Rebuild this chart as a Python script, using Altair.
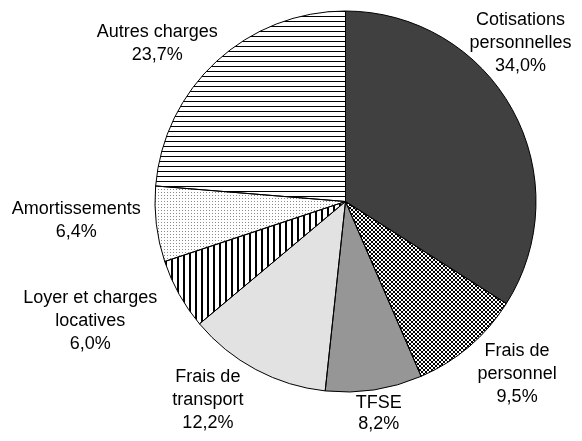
import math
import altair as alt
import pandas as pd

# ---------------- data ----------------
categories = ["Cotisations personnelles", "Frais de personnel", "TFSE",
              "Frais de transport", "Loyer et charges locatives",
              "Amortissements", "Autres charges"]
values = [34.0, 9.5, 8.2, 12.2, 6.0, 6.4, 23.7]
label_names = ["Cotisations\npersonnelles", "Frais de\npersonnel", "TFSE",
               "Frais de\ntransport", "Loyer et charges\nlocatives",
               "Amortissements", "Autres charges"]

# ---------------- layout / style ----------------
W, H = 566, 425
CX, CY, R = 337.5, 193.5, 190.5
LABEL_R = 235
label_nudges = [(-31, -45), (19, -6), (-2, -20), (-27, -9), (-50, 5), (-36, -9), (-29, 15)]
label_line_h = [23, 23, 21, 23, 23, 23, 23]
FONT = "Liberation Sans"

df = pd.DataFrame({
    "cat": categories,
    "value": values,
    "order": list(range(len(categories))),
    "label": [n + "\n" + f"{v:.1f}".replace(".", ",") + "%" for n, v in zip(label_names, values)],
})

total = sum(values)


def wedge_bbox(i):
    """bbox (w, h) of the wedge, used only to size the hatch patterns."""
    start = sum(values[:i]) / total * 2 * math.pi
    end = start + values[i] / total * 2 * math.pi
    xs, ys = [0.0], [0.0]
    n = 200
    for k in range(n + 1):
        a = start + (end - start) * k / n
        xs.append(R * math.sin(a))
        ys.append(-R * math.cos(a))
    return max(xs) - min(xs), max(ys) - min(ys)


def stripes(extent, period, dark, c_dark, c_light, along_x):
    stops = []
    pos = 0.0
    while pos < extent:
        o0 = pos / extent
        o1 = min((pos + dark) / extent, 1.0)
        o2 = min((pos + period) / extent, 1.0)
        stops += [alt.GradientStop(offset=o0, color=c_dark),
                  alt.GradientStop(offset=o1, color=c_dark),
                  alt.GradientStop(offset=o1, color=c_light),
                  alt.GradientStop(offset=o2, color=c_light)]
        pos += period
    if along_x:
        return alt.LinearGradient(gradient="linear", stops=stops, x1=0, y1=0, x2=1, y2=0)
    return alt.LinearGradient(gradient="linear", stops=stops, x1=0, y1=0, x2=0, y2=1)


def fills_for(i):
    w, h = wedge_bbox(i)
    cat = categories[i]
    if cat == "Cotisations personnelles":
        return [("#404040", None)]
    if cat == "TFSE":
        return [("#969696", None)]
    if cat == "Frais de transport":
        return [("#e2e2e2", None)]
    if cat == "Frais de personnel":
        return [(stripes(h, 4, 2, "#000000", "#ffffff", False), None),
                (stripes(w, 4, 2, "#ffffff", "#000000", True), "difference")]
    if cat == "Loyer et charges locatives":
        return [(stripes(w, 6, 2, "#000000", "#ffffff", True), None)]
    if cat == "Amortissements":
        return [(stripes(h, 3, 1, "#8a8a8a", "#ffffff", False), None),
                (stripes(w, 3, 1, "#8a8a8a", "#ffffff", True), "lighten")]
    if cat == "Autres charges":
        return [(stripes(h, 5, 1, "#000000", "#ffffff", False), None)]
    return [("#ffffff", None)]


base = alt.Chart(df).transform_window(
    end="sum(value)", sort=[alt.SortField("order")], frame=[None, 0]
).transform_calculate(
    start="datum.end - datum.value",
    mid="datum.end - datum.value / 2",
)

theta_scale = alt.Scale(domain=[0, total])

layers = []
for i, cat in enumerate(categories):
    sel = base.transform_filter(alt.datum.cat == cat)
    for fill, blend in fills_for(i):
        kw = dict(x=CX, y=CY, outerRadius=R, fill=fill, strokeWidth=0)
        if blend:
            kw["blend"] = blend
        layers.append(sel.mark_arc(**kw).encode(
            theta=alt.Theta("start:Q", scale=theta_scale),
            theta2=alt.Theta2("end:Q"),
        ))

# outlines
layers.append(base.mark_arc(x=CX, y=CY, outerRadius=R, fillOpacity=0,
                            stroke="#000000", strokeWidth=1).encode(
    theta=alt.Theta("start:Q", scale=theta_scale),
    theta2=alt.Theta2("end:Q"),
))

# labels (block centred on its anchor)
for i, cat in enumerate(categories):
    dx, dy = label_nudges[i]
    lh = label_line_h[i]
    n_lines = df["label"][i].count("\n") + 1
    dy = dy - (n_lines - 1) * lh / 2
    layers.append(base.transform_filter(alt.datum.cat == cat).mark_text(
        x=CX, y=CY, radius=LABEL_R, dx=dx, dy=dy,
        font=FONT, fontSize=18, lineHeight=lh, lineBreak="\n",
        align="center", baseline="middle", color="#000000",
    ).encode(
        theta=alt.Theta("mid:Q", scale=theta_scale),
        text="label:N",
    ))

chart = alt.layer(*layers).properties(
    width=W, height=H, autosize=alt.AutoSizeParams(type="none"), padding=0,
).configure_view(stroke=None)

chart.save("out.html", embed_options={"renderer": "svg", "actions": False})
